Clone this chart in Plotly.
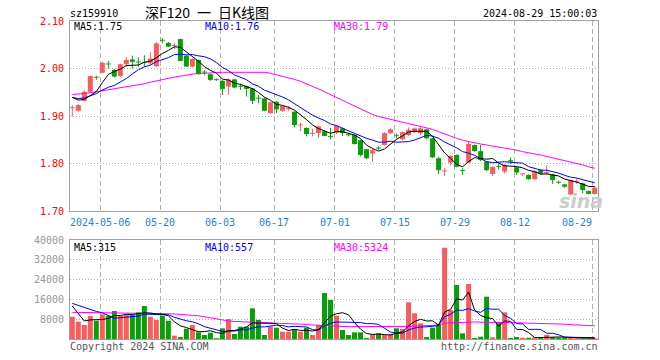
import plotly.graph_objects as go
import pandas as pd

# ---------------- data ----------------
dates = [
    "2024-04-24", "2024-04-25", "2024-04-26", "2024-04-29", "2024-04-30",
    "2024-05-06", "2024-05-07", "2024-05-08", "2024-05-09", "2024-05-10",
    "2024-05-13", "2024-05-14", "2024-05-15", "2024-05-16", "2024-05-17",
    "2024-05-20", "2024-05-21", "2024-05-22", "2024-05-23", "2024-05-24",
    "2024-05-27", "2024-05-28", "2024-05-29", "2024-05-30", "2024-05-31",
    "2024-06-03", "2024-06-04", "2024-06-05", "2024-06-06", "2024-06-07",
    "2024-06-11", "2024-06-12", "2024-06-13", "2024-06-14",
    "2024-06-17", "2024-06-18", "2024-06-19", "2024-06-20", "2024-06-21",
    "2024-06-24", "2024-06-25", "2024-06-26", "2024-06-27", "2024-06-28",
    "2024-07-01", "2024-07-02", "2024-07-03", "2024-07-04", "2024-07-05",
    "2024-07-08", "2024-07-09", "2024-07-10", "2024-07-11", "2024-07-12",
    "2024-07-15", "2024-07-16", "2024-07-17", "2024-07-18", "2024-07-19",
    "2024-07-22", "2024-07-23", "2024-07-24", "2024-07-25", "2024-07-26",
    "2024-07-29", "2024-07-30", "2024-07-31", "2024-08-01", "2024-08-02",
    "2024-08-05", "2024-08-06", "2024-08-07", "2024-08-08", "2024-08-09",
    "2024-08-12", "2024-08-13", "2024-08-14", "2024-08-15", "2024-08-16",
    "2024-08-19", "2024-08-20", "2024-08-21", "2024-08-22", "2024-08-23",
    "2024-08-26", "2024-08-27", "2024-08-28", "2024-08-29",
]

opens = [
    1.917, 1.911, 1.932, 1.951, 1.982, 1.991, 2.010, 1.997, 1.984, 2.009,
    2.019, 2.014, 2.013, 2.011, 2.005, 2.060, 2.054, 2.048, 2.062, 2.027,
    2.004, 2.018, 1.993, 1.988, 1.977, 1.974, 1.962, 1.977, 1.963, 1.963,
    1.958, 1.938, 1.937, 1.906, 1.930, 1.911, 1.915, 1.909, 1.880, 1.875,
    1.863, 1.864, 1.868, 1.857, 1.865, 1.874, 1.861, 1.860, 1.849, 1.830,
    1.821, 1.833, 1.839, 1.864, 1.859, 1.851, 1.860, 1.866, 1.864, 1.872,
    1.853, 1.811, 1.784, 1.802, 1.818, 1.786, 1.802, 1.839, 1.826, 1.804,
    1.778, 1.794, 1.783, 1.807, 1.792, 1.777, 1.776, 1.767, 1.786, 1.779,
    1.777, 1.761, 1.756, 1.735, 1.762, 1.758, 1.742, 1.736,
]
highs = [
    1.923, 1.925, 1.954, 1.985, 1.985, 2.014, 2.016, 1.999, 2.010, 2.024,
    2.027, 2.023, 2.028, 2.034, 2.055, 2.064, 2.056, 2.054, 2.063, 2.028,
    2.021, 2.019, 1.996, 1.989, 1.979, 1.976, 1.980, 1.978, 1.968, 1.964,
    1.959, 1.944, 1.938, 1.930, 1.931, 1.922, 1.921, 1.910, 1.886, 1.876,
    1.873, 1.880, 1.869, 1.875, 1.881, 1.876, 1.865, 1.861, 1.850, 1.831,
    1.832, 1.836, 1.866, 1.874, 1.863, 1.867, 1.876, 1.876, 1.877, 1.873,
    1.854, 1.814, 1.790, 1.817, 1.819, 1.790, 1.846, 1.840, 1.839, 1.805,
    1.794, 1.800, 1.799, 1.813, 1.793, 1.780, 1.777, 1.786, 1.788, 1.796,
    1.778, 1.764, 1.757, 1.766, 1.768, 1.760, 1.743, 1.752,
]
lows = [
    1.899, 1.909, 1.930, 1.949, 1.976, 1.990, 2.000, 1.981, 1.982, 2.003,
    2.000, 2.003, 2.004, 2.008, 2.003, 2.053, 2.045, 2.041, 2.015, 2.003,
    2.002, 1.987, 1.986, 1.974, 1.974, 1.944, 1.945, 1.958, 1.955, 1.941,
    1.925, 1.927, 1.910, 1.905, 1.906, 1.909, 1.911, 1.876, 1.868, 1.857,
    1.857, 1.854, 1.857, 1.851, 1.862, 1.858, 1.857, 1.840, 1.815, 1.809,
    1.804, 1.828, 1.838, 1.862, 1.853, 1.849, 1.858, 1.864, 1.860, 1.851,
    1.812, 1.778, 1.774, 1.796, 1.792, 1.776, 1.801, 1.825, 1.805, 1.784,
    1.774, 1.787, 1.779, 1.799, 1.776, 1.773, 1.766, 1.765, 1.776, 1.777,
    1.757, 1.757, 1.749, 1.733, 1.757, 1.737, 1.735, 1.735,
]
closes = [
    1.918, 1.923, 1.951, 1.984, 1.981, 2.012, 2.009, 1.983, 2.009, 2.018,
    2.014, 2.013, 2.012, 2.021, 2.053, 2.059, 2.046, 2.049, 2.016, 2.004,
    2.020, 1.988, 1.992, 1.976, 1.976, 1.957, 1.977, 1.960, 1.962, 1.957,
    1.932, 1.937, 1.911, 1.929, 1.914, 1.921, 1.917, 1.881, 1.882, 1.862,
    1.864, 1.878, 1.858, 1.856, 1.879, 1.864, 1.860, 1.841, 1.818, 1.811,
    1.828, 1.832, 1.864, 1.872, 1.858, 1.866, 1.871, 1.874, 1.874, 1.853,
    1.813, 1.786, 1.785, 1.816, 1.793, 1.785, 1.841, 1.826, 1.807, 1.786,
    1.793, 1.793, 1.797, 1.804, 1.781, 1.779, 1.767, 1.784, 1.778, 1.782,
    1.765, 1.760, 1.751, 1.765, 1.763, 1.744, 1.736, 1.749,
]
volumes = [
    9010, 6990, 5657, 9293, 7394, 9980, 9414, 11313, 9414, 9697,
    9697, 10774, 13333, 9010, 7677, 9414, 7394, 1347, 808, 4175,
    5657, 2694, 1616, 2559, 300, 4310, 8081, 2020, 4983, 4983,
    12390, 7677, 1616, 4983, 4579, 2963, 2963, 4040, 2963, 4579,
    1616, 5657, 18586, 15757, 9414, 3636, 1616, 2694, 2694, 400,
    1886, 2290, 1616, 1886, 4310, 4040, 14815, 10370, 6330, 800,
    4579, 5926, 36900, 11717, 21818, 2290, 22222, 400, 930, 17100,
    700, 6734, 10774, 400, 808, 500, 500, 700, 400, 1700,
    700, 600, 595, 400, 300, 300, 250, 325,
]
# closes / volumes of the days just before the visible window (estimated from the MA lines)
pre_closes = [1.945, 1.940, 1.935, 1.938, 1.937, 1.950, 1.945, 1.940, 1.942]
pre_volumes = [15000, 16000, 15500, 15335, 15500, 21000, 21962, 7000, 7693]

# MA30 lines
ma30_price = [
    1.945, 1.946, 1.947, 1.949, 1.951, 1.953, 1.955, 1.957, 1.959, 1.961,
    1.963, 1.965, 1.968, 1.971, 1.974, 1.977, 1.979, 1.982, 1.984, 1.986,
    1.988, 1.990, 1.990, 1.991, 1.991, 1.992, 1.992, 1.992, 1.993, 1.993,
    1.993, 1.993, 1.992, 1.990, 1.987, 1.984, 1.981, 1.977, 1.973, 1.968,
    1.963, 1.957, 1.951, 1.945, 1.939, 1.933, 1.927, 1.921, 1.915, 1.909,
    1.903, 1.899, 1.896, 1.893, 1.891, 1.888, 1.885, 1.882, 1.879, 1.876,
    1.872, 1.867, 1.862, 1.857, 1.853, 1.849, 1.846, 1.844, 1.841, 1.839,
    1.837, 1.835, 1.833, 1.830, 1.828, 1.825, 1.822, 1.820, 1.818, 1.815,
    1.813, 1.810, 1.807, 1.804, 1.800, 1.797, 1.793, 1.790,
]
ma30_volume = [
    10770, 10750, 10730, 10720, 10700, 10650, 10600, 10550, 10500, 10450,
    10420, 10400, 10380, 10370, 10350, 10300, 10200, 10100, 10000, 9900,
    9800, 9400, 9000, 8500, 8000, 7600, 7300, 7100, 7000, 6900,
    6800, 6700, 6650, 6600, 6550, 6500, 6450, 6200, 6000, 5800,
    5650, 5500, 5400, 5200, 5100, 5000, 5000, 4980, 4970, 4970,
    4970, 4970, 4980, 4980, 4990, 5000, 5100, 5200, 5300, 5400,
    5500, 5600, 6400, 6500, 6800, 6900, 7000, 6900, 6800, 6700,
    6650, 6600, 6600, 6600, 6550, 6500, 6500, 6450, 6400, 6300,
    6200, 6100, 6000, 5800, 5650, 5500, 5400, 5324,
]

tick_dates = ["2024-05-06", "2024-05-20", "2024-06-03", "2024-06-17", "2024-07-01",
              "2024-07-15", "2024-07-29", "2024-08-12", "2024-08-29"]
tick_labels = ["2024-05-06", "05-20", "06-03", "06-17", "07-01",
               "07-15", "07-29", "08-12", "08-29"]
price_ticks = [1.70, 1.80, 1.90, 2.00, 2.10]
volume_ticks = [0, 8000, 16000, 24000, 32000, 40000]

symbol = "sz159910"
title_text = "深F120 一 日K线图"
stamp = "2024-08-29 15:00:03"

# ---------------- styling ----------------
RED = "#f85c5c"
GREEN = "#0a9e0a"
FRAME = "#a0a0a0"
GRID = "#b0b0b0"
MONO = "DejaVu Sans Mono"
W, H = 660, 360
L, R, T, B = 70, 62, 21, 21
PW, PH = W - L - R, H - T - B

n = len(dates)
xi = list(range(n))
x0, x1 = -0.383, 87.55

def px_x(p):
    return (p - L) / PW

def px_y(p):
    return (H - B - p) / PH

# moving averages
s_close = pd.Series(pre_closes + closes)
ma5 = s_close.rolling(5).mean().iloc[len(pre_closes):].tolist()
ma10 = s_close.rolling(10).mean().iloc[len(pre_closes):].tolist()
s_vol = pd.Series(pre_volumes + volumes, dtype=float)
vma5 = s_vol.rolling(5).mean().iloc[len(pre_volumes):].tolist()
vma10 = s_vol.rolling(10).mean().iloc[len(pre_volumes):].tolist()

up = [c >= o for o, c in zip(opens, closes)]
colors = [RED if u else GREEN for u in up]

MIN_BODY = 0.002
body_base, body_h = [], []
for o, c in zip(opens, closes):
    h = abs(c - o)
    if h < MIN_BODY:
        body_base.append((o + c) / 2 - MIN_BODY / 2)
        body_h.append(MIN_BODY)
    else:
        body_base.append(min(o, c))
        body_h.append(h)

fig = go.Figure()

# wicks
for flag, col in ((True, RED), (False, GREEN)):
    wx, wy = [], []
    for i in xi:
        if up[i] == flag:
            wx += [i, i, None]
            wy += [lows[i], highs[i], None]
    fig.add_trace(go.Scatter(x=wx, y=wy, mode="lines", line=dict(color=col, width=1),
                             xaxis="x", yaxis="y", hoverinfo="skip"))

# bodies
fig.add_trace(go.Bar(x=xi, y=body_h, base=body_base, width=0.83,
                     marker=dict(color=colors, line=dict(width=0)),
                     xaxis="x", yaxis="y"))

# price MAs
for ys, col in ((ma30_price, "#ff00ff"), (ma10, "#0000ff"), (ma5, "#000000")):
    fig.add_trace(go.Scatter(x=xi, y=ys, mode="lines", line=dict(color=col, width=1),
                             xaxis="x", yaxis="y"))

# volume bars
fig.add_trace(go.Bar(x=xi, y=volumes, width=0.83,
                     marker=dict(color=colors, line=dict(width=0)),
                     xaxis="x2", yaxis="y2"))
for ys, col in ((ma30_volume, "#ff00ff"), (vma10, "#0000ff"), (vma5, "#000000")):
    fig.add_trace(go.Scatter(x=xi, y=ys, mode="lines", line=dict(color=col, width=1),
                             xaxis="x2", yaxis="y2"))

grid_x = [dates.index(d) - 0.33 for d in tick_dates]

xcommon = dict(range=[x0, x1], tickvals=grid_x, showticklabels=False, ticks="",
               showgrid=True, gridcolor=GRID, griddash="5px,3px", gridwidth=1,
               showline=True, linecolor=FRAME, linewidth=1, mirror=True,
               zeroline=False, automargin=False, fixedrange=True)
ycommon = dict(ticks="", showgrid=True, gridcolor=GRID, griddash="1px,2px", gridwidth=1,
               showline=True, linecolor=FRAME, linewidth=1, mirror=True,
               zeroline=False, automargin=False, fixedrange=True,
               ticklabelstandoff=3)

fig.update_layout(
    template="none",
    width=W, height=H,
    margin=dict(l=L, r=R, t=T, b=B, pad=0),
    paper_bgcolor="white", plot_bgcolor="white",
    showlegend=False, hovermode=False, barmode="overlay",
    xaxis=dict(domain=[0, 1], anchor="y", **xcommon),
    yaxis=dict(domain=[(H - B - 211) / PH, 1], anchor="x", range=[1.70, 2.10],
               tickvals=price_ticks, ticktext=[f"{v:.2f}" for v in price_ticks],
               tickfont=dict(family=MONO, size=10, color="#ff0000"), **ycommon),
    xaxis2=dict(domain=[0, 1], anchor="y2", **xcommon),
    yaxis2=dict(domain=[0, (H - B - 240) / PH], anchor="x2", range=[0, 40000],
                tickvals=volume_ticks,
                ticktext=["" if v == 0 else str(v) for v in volume_ticks],
                tickfont=dict(family=MONO, size=10, color="#999999"), **ycommon),
)

ann = []

def text(x, y, s, color="#000000", size=10, family=MONO, anchor="left", **kw):
    ann.append(dict(x=px_x(x), y=px_y(y), xref="paper", yref="paper", text=s,
                    showarrow=False, xanchor=anchor, yanchor="middle",
                    font=dict(family=family, size=size, color=color, **kw),
                    borderpad=0))

text(69, 13, symbol)
text(207, 12, title_text.replace(" ", "\u2002"), size=14,
     family="Noto Sans CJK SC", anchor="center")
text(598, 13, stamp, anchor="right")

text(73, 26, f"MA5:{ma5[-1]:.2f}")
text(204, 26, f"MA10:{ma10[-1]:.2f}", color="#0000ff")
text(333, 26, f"MA30:{ma30_price[-1]:.2f}", color="#ff00ff")

text(73, 247, f"MA5:{vma5[-1]:.0f}")
text(204, 247, f"MA10:{vma10[-1]:.0f}", color="#0000ff")
text(333, 247, f"MA30:{ma30_volume[-1]:.0f}", color="#ff00ff")

for d, lab in zip(tick_dates, tick_labels):
    gx = L + (dates.index(d) - 0.33 - x0) / (x1 - x0) * PW
    if d == tick_dates[-1]:
        text(gx, 222, lab, color="#1a86d0", anchor="right")
    else:
        text(gx, 222, lab, color="#1a86d0", anchor="center")

text(69, 346, "Copyright 2024 SINA.COM", color="#555555")
text(599, 346, "http://finance.sina.com.cn", color="#555555", anchor="right")
text(581, 201, "sina", color="#cccccc", size=19, family="DejaVu Sans",
     anchor="center", weight="bold", style="italic")

fig.update_layout(annotations=ann)
fig.write_html("out.html",
               config={"displayModeBar": False, "staticPlot": True},
               post_script="document.body.style.margin='0';document.body.style.overflow='hidden';")
